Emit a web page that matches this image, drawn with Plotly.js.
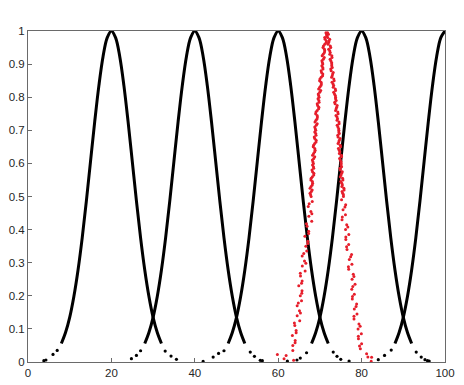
<!DOCTYPE html>
<html>
<head>
<meta charset="utf-8">
<script src="https://cdn.plot.ly/plotly-3.0.1.min.js"></script>
<style>html,body{margin:0;padding:0;background:#fff;}#chart{width:464px;height:385px;}</style>
</head>
<body>
<div id="chart"></div>
<script>
// ---- black bell curves: dense (drawn) part ----
const bellY = [0.056,0.089,0.135,0.198,0.278,0.375,0.487,0.607,0.726,0.835,0.923,0.980,1,0.980,0.923,0.835,0.726,0.607,0.487,0.375,0.278,0.198,0.135,0.089,0.056];
const curve20X = [8,9,10,11,12,13,14,15,16,17,18,19,20,21,22,23,24,25,26,27,28,29,30,31,32];
const curve40X = [28,29,30,31,32,33,34,35,36,37,38,39,40,41,42,43,44,45,46,47,48,49,50,51,52];
const curve60X = [48,49,50,51,52,53,54,55,56,57,58,59,60,61,62,63,64,65,66,67,68,69,70,71,72];
const curve80X = [68,69,70,71,72,73,74,75,76,77,78,79,80,81,82,83,84,85,86,87,88,89,90,91,92];
const curve100X = [88,89,90,91,92,93,94,95,96,97,98,99,100];
const curve100Y = [0.056,0.089,0.135,0.198,0.278,0.375,0.487,0.607,0.726,0.835,0.923,0.980,1];

// ---- black bell curves: sparse tail dots ----
const tailX = [3.8,4.3,6.0,7.0, 32.9,34.3,35.6,
               24.8,26.0,27.0, 53.3,54.3,55.7,56.2,
               42.0,44.4,45.7,47.0, 73.2,74.1,75.0,77.0,
               62.2,64.5,65.3,66.8, 93.1,94.3,95.2,95.8,96.2,
               84.0,85.5,87.1];
const tailY = [0.004,0.006,0.023,0.035, 0.033,0.018,0.008,
               0.010,0.020,0.034, 0.030,0.017,0.005,0.004,
               0.002,0.015,0.026,0.034, 0.030,0.017,0.008,0.003,
               0.003,0.006,0.012,0.028, 0.030,0.015,0.007,0.004,0.003,
               0.007,0.020,0.036];

// ---- red noisy peak ----
const redX = [
 71.6,71.15,71.55,71.15,70.75,71.15,70.78,71.05,70.48,70.7,
 70.68,70.3,70.7,70.3,69.93,70.35,69.95,70.2,69.6,69.8,
 69.75,69.35,69.75,69.35,68.98,69.4,69.05,69.35,68.77,69.0,
 69.0,68.65,69.1,68.75,68.4,68.85,68.48,68.75,68.2,68.45,
 68.45,68.1,68.55,68.2,67.83,68.25,67.88,68.15,67.63,67.9,
 68.17,67.2,67.83,67.35,68.04,66.93,67.3,66.4,67.1,66.63,
 66.84,65.75,66.3,65.78,66.46,65.35,65.74,64.93,65.71,65.3,
 65.59,64.55,65.1,64.55,65.16,63.98,64.3,63.4,64.08,63.5,
 63.5,61.9,61.4,59.8,63.7,
 71.85,71.72,72.35,72.1,72.5,72.1,72.48,72.86,72.44,72.81,
 72.84,72.61,73.2,72.95,73.34,72.91,73.3,73.7,73.3,73.7,
 73.75,73.55,74.15,73.9,74.29,73.86,74.23,74.58,74.14,74.51,
 74.53,74.28,74.83,74.53,74.88,74.43,74.79,75.16,74.72,75.08,
 75.07,74.83,75.37,75.07,75.44,75.01,75.39,75.76,75.31,75.64,
 75.2,76.18,75.55,76.13,75.3,76.43,76.15,76.93,76.22,76.9,
 76.5,77.6,77.05,77.68,76.9,78.01,77.72,78.43,77.65,78.26,
 77.77,78.8,78.25,78.9,78.18,79.36,79.15,79.94,79.25,80.0,
 79.7,81.2,81.5,82.4,82.3];
const redY = [
 0.99,0.98,0.97,0.96,0.95,0.94,0.93,0.92,0.91,0.90,
 0.89,0.88,0.87,0.86,0.85,0.84,0.83,0.82,0.81,0.80,
 0.79,0.78,0.77,0.76,0.75,0.74,0.73,0.72,0.71,0.70,
 0.69,0.68,0.67,0.66,0.65,0.64,0.63,0.62,0.61,0.60,
 0.59,0.58,0.57,0.56,0.55,0.54,0.53,0.52,0.51,0.50,
 0.485,0.47,0.455,0.44,0.425,0.41,0.395,0.38,0.365,0.35,
 0.335,0.32,0.305,0.29,0.275,0.26,0.245,0.23,0.215,0.20,
 0.185,0.17,0.155,0.14,0.125,0.11,0.095,0.08,0.065,0.05,
 0.035,0.02,0.01,0.023,0.005,
 0.995,0.985,0.975,0.965,0.955,0.945,0.935,0.925,0.915,0.905,
 0.895,0.885,0.875,0.865,0.855,0.845,0.835,0.825,0.815,0.805,
 0.795,0.785,0.775,0.765,0.755,0.745,0.735,0.725,0.715,0.705,
 0.695,0.685,0.675,0.665,0.655,0.645,0.635,0.625,0.615,0.605,
 0.595,0.585,0.575,0.565,0.555,0.545,0.535,0.525,0.515,0.505,
 0.49,0.475,0.46,0.445,0.43,0.415,0.40,0.385,0.37,0.355,
 0.34,0.325,0.31,0.295,0.28,0.265,0.25,0.235,0.22,0.205,
 0.19,0.175,0.16,0.145,0.13,0.115,0.10,0.085,0.07,0.055,
 0.04,0.025,0.015,0.014,0.002];
// second batch of red dots (same peak, denser band)
const redX2 = [
 71.45,71.63,71.25,71.5,70.85,71.1,71.07,70.54,70.81,70.59,
 70.46,70.74,70.4,70.65,70.01,70.29,70.25,69.7,69.95,69.7,
 69.55,69.8,69.45,69.7,69.06,69.34,69.32,68.82,69.11,68.89,
 68.77,69.07,68.77,69.07,68.47,68.77,68.76,68.24,68.53,68.32,
 68.23,68.52,68.23,68.53,67.91,68.19,68.16,67.64,67.94,67.76,
 72.05,71.85,72.2,71.95,72.6,72.35,72.37,72.9,72.62,72.85,
 72.97,72.7,73.05,72.8,73.42,73.15,73.2,73.75,73.5,73.75,
 73.9,73.65,74.0,73.75,74.37,74.1,74.1,74.6,74.33,74.55,
 74.65,74.35,74.65,74.35,74.95,74.65,74.67,75.2,74.9,75.1,
 75.2,74.9,75.2,74.9,75.52,75.25,75.27,75.8,75.47,75.65,
 67.43,68.07,66.77,67.3,67.1,66.13,66.63,65.31,65.59,65.66,
 64.83,65.33,63.88,64.3,64.05,
 76.0,75.37,76.7,76.22,76.4,77.37,76.84,78.16,77.89,77.81,
 78.67,78.17,79.65,79.22,79.5];
const redY2 = [
 0.995,0.985,0.975,0.965,0.955,0.945,0.935,0.925,0.915,0.905,
 0.895,0.885,0.875,0.865,0.855,0.845,0.835,0.825,0.815,0.805,
 0.795,0.785,0.775,0.765,0.755,0.745,0.735,0.725,0.715,0.705,
 0.695,0.685,0.675,0.665,0.655,0.645,0.635,0.625,0.615,0.605,
 0.595,0.585,0.575,0.565,0.555,0.545,0.535,0.525,0.515,0.505,
 0.99,0.98,0.97,0.96,0.95,0.94,0.93,0.92,0.91,0.90,
 0.89,0.88,0.87,0.86,0.85,0.84,0.83,0.82,0.81,0.80,
 0.79,0.78,0.77,0.76,0.75,0.74,0.73,0.72,0.71,0.70,
 0.69,0.68,0.67,0.66,0.65,0.64,0.63,0.62,0.61,0.60,
 0.59,0.58,0.57,0.56,0.55,0.54,0.53,0.52,0.51,0.50,
 0.478,0.448,0.418,0.388,0.358,0.328,0.298,0.268,0.238,0.208,
 0.178,0.148,0.118,0.088,0.058,
 0.468,0.438,0.408,0.378,0.348,0.318,0.288,0.258,0.228,0.198,
 0.168,0.138,0.108,0.078,0.048];

const xTicks = [0,20,40,60,80,100];
const yTicks = [0,0.1,0.2,0.3,0.4,0.5,0.6,0.7,0.8,0.9,1];
const yTickText = ['0','0.1','0.2','0.3','0.4','0.5','0.6','0.7','0.8','0.9','1'];

const lineStyle = {color:'#000', width:3, shape:'spline'};
const curves = [[curve20X,bellY],[curve40X,bellY],[curve60X,bellY],[curve80X,bellY],[curve100X,curve100Y]];
const traces = curves.map(c => ({x:c[0], y:c[1], type:'scatter', mode:'lines', line:lineStyle, hoverinfo:'skip'}));
traces.push({x:tailX, y:tailY, type:'scatter', mode:'markers', marker:{color:'#000', size:3.2}, hoverinfo:'skip'});
traces.push({x:redX.concat(redX2), y:redY.concat(redY2), type:'scatter', mode:'markers', marker:{color:'#e61e2b', size:3}, hoverinfo:'skip'});

const axisFont = {family:'Liberation Sans, Arial, sans-serif', size:11.5, color:'#262626'};
const layout = {
  width:464, height:385,
  margin:{l:28, r:19, t:31, b:23, pad:0},
  paper_bgcolor:'#fff', plot_bgcolor:'#fff',
  showlegend:false,
  xaxis:{range:[0,100], tickvals:xTicks, ticktext:xTicks.map(String), ticks:'inside', ticklen:4, tickcolor:'#6a6a6a',
         showline:true, linecolor:'#6a6a6a', linewidth:1, mirror:true, showgrid:false, zeroline:false, tickfont:axisFont, fixedrange:true},
  yaxis:{range:[0,1], tickvals:yTicks, ticktext:yTickText, ticks:'inside', ticklen:4, tickcolor:'#6a6a6a',
         showline:true, linecolor:'#6a6a6a', linewidth:1, mirror:true, showgrid:false, zeroline:false, tickfont:axisFont, fixedrange:true}
};
Plotly.newPlot('chart', traces, layout, {displayModeBar:false, staticPlot:true});
</script>
</body>
</html>
